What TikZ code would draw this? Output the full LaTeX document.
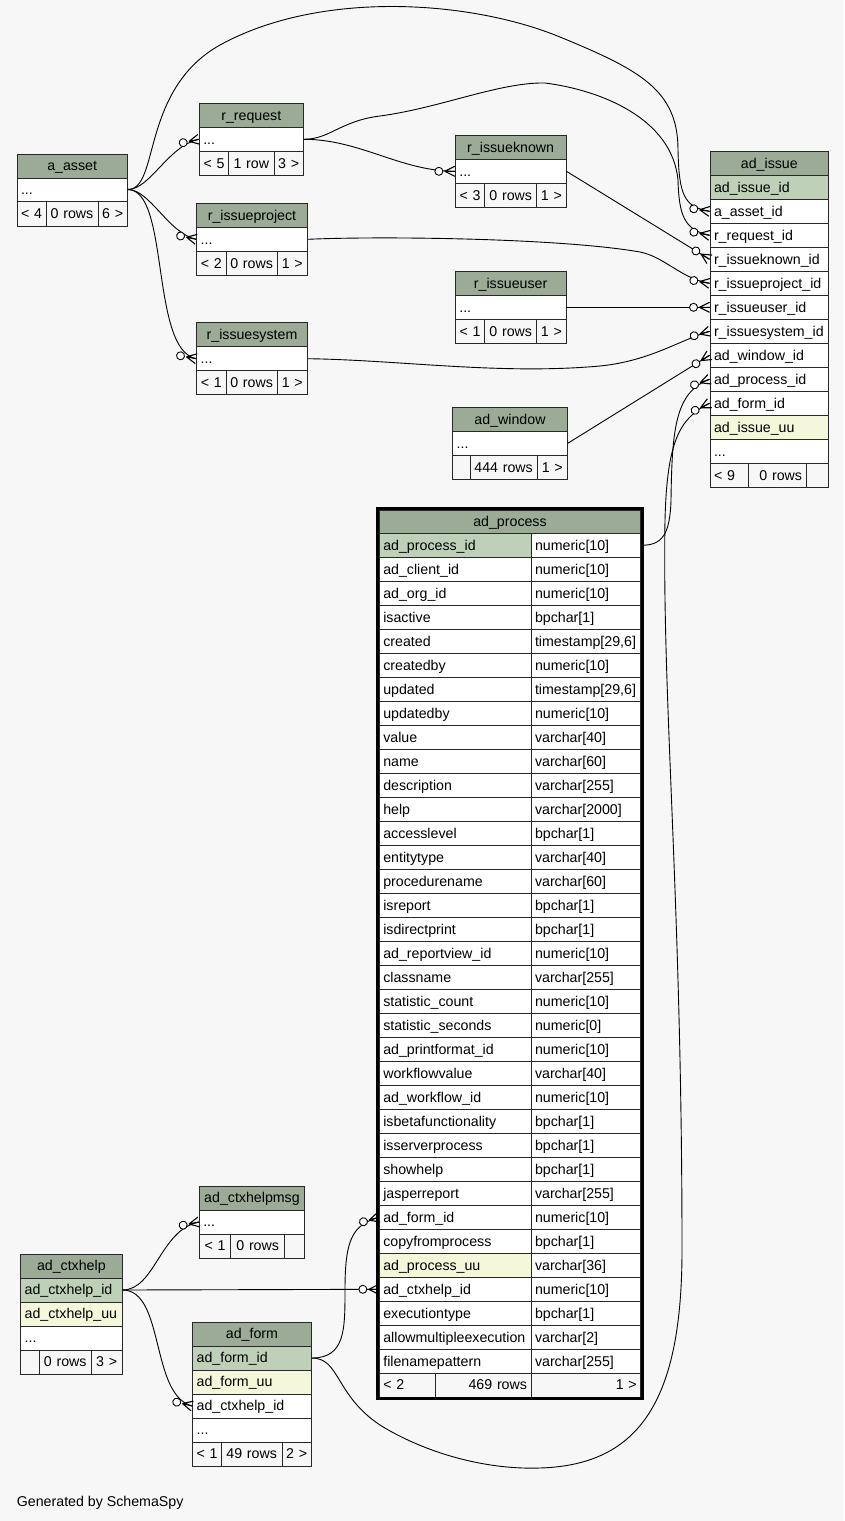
\documentclass[tikz,border=0pt]{standalone}
\usepackage{fontspec}
\setmainfont{Liberation Sans}
\definecolor{hdr}{RGB}{155,171,150}
\definecolor{pk}{RGB}{190,209,184}
\definecolor{uq}{RGB}{244,247,218}
\definecolor{bgc}{RGB}{247,247,247}
\definecolor{bdr}{RGB}{40,40,40}
\newcommand{\threedots}{...}
\tikzset{
  cellbox/.style={draw=bdr, line width=0.9pt, inner xsep=4pt, inner ysep=0pt,
    text height=11pt, text depth=1.4pt, font=\fontsize{14.2}{16}\selectfont},
  edge/.style={draw=black, line width=0.9pt},
  crowline/.style={draw=black, line width=1.1pt},
  crowdot/.style={draw=black, line width=0.9pt, fill=white},
}
% name, x1, y1, x2, y2, fill, align, text
\newcommand{\tcell}[8]{%
  \pgfmathsetmacro\cw{#4-#2}%
  \pgfmathsetmacro\ch{#5-#3}%
  \pgfmathsetmacro\tw{#4-#2-8}%
  \pgfmathsetmacro\cx{(#2+#4)/2}%
  \pgfmathsetmacro\cy{(#3+#5)/2}%
  \node[cellbox, fill=#6, minimum width=\cw pt, minimum height=\ch pt,
        text width=\tw pt, align=#7] (#1) at (\cx,\cy) {\mbox{#8}};}
% crow's foot with open circle at a table edge
\newcommand{\crowend}[2]{%
  \begin{scope}[shift={(#1)}, rotate=#2]
    \draw[crowline] (-10,0) -- (0,5) (-10,0) -- (0,0) (-10,0) -- (0,-5);
    \draw[crowdot] (-16,0) circle[radius=4pt];
  \end{scope}}
\begin{document}
\begin{tikzpicture}[x=1pt, y=-1pt]
\useasboundingbox (0,0) rectangle (844,1521);
\fill[bgc] (0,0) rectangle (844,1521);

% ---------- a_asset
\tcell{aa-h}{17}{154}{127.3}{178}{hdr}{center}{a\_asset}
\tcell{aa-d}{17}{178}{127.3}{201}{white}{left}{\threedots}
\tcell{aa-f1}{17}{201}{46}{226}{bgc}{center}{< 4}
\tcell{aa-f2}{46}{201}{98}{226}{bgc}{center}{0 rows}
\tcell{aa-f3}{98}{201}{127.3}{226}{bgc}{center}{6 >}

% ---------- r_request
\tcell{rr-h}{199.3}{103.3}{303.3}{127.3}{hdr}{center}{r\_request}
\tcell{rr-d}{199.3}{127.3}{303.3}{151.3}{white}{left}{\threedots}
\tcell{rr-f1}{199.3}{151.3}{228.7}{175.3}{bgc}{center}{< 5}
\tcell{rr-f2}{228.7}{151.3}{274}{175.3}{bgc}{center}{1 row}
\tcell{rr-f3}{274}{151.3}{303.3}{175.3}{bgc}{center}{3 >}

% ---------- r_issueproject
\tcell{rp-h}{196.7}{203.3}{307.3}{227.3}{hdr}{center}{r\_issueproject}
\tcell{rp-d}{196.7}{227.3}{307.3}{251.3}{white}{left}{\threedots}
\tcell{rp-f1}{196.7}{251.3}{226}{275.3}{bgc}{center}{< 2}
\tcell{rp-f2}{226}{251.3}{277.3}{275.3}{bgc}{center}{0 rows}
\tcell{rp-f3}{277.3}{251.3}{307.3}{275.3}{bgc}{center}{1 >}

% ---------- r_issuesystem
\tcell{rs-h}{196.7}{322.7}{307.3}{346.7}{hdr}{center}{r\_issuesystem}
\tcell{rs-d}{196.7}{346.7}{307.3}{370.7}{white}{left}{\threedots}
\tcell{rs-f1}{196.7}{370.7}{226}{394.7}{bgc}{center}{< 1}
\tcell{rs-f2}{226}{370.7}{277.3}{394.7}{bgc}{center}{0 rows}
\tcell{rs-f3}{277.3}{370.7}{307.3}{394.7}{bgc}{center}{1 >}

% ---------- r_issueknown
\tcell{rk-h}{455.3}{135.3}{566}{159.3}{hdr}{center}{r\_issueknown}
\tcell{rk-d}{455.3}{159.3}{566}{183.3}{white}{left}{\threedots}
\tcell{rk-f1}{455.3}{183.3}{484.7}{207.3}{bgc}{center}{< 3}
\tcell{rk-f2}{484.7}{183.3}{536.7}{207.3}{bgc}{center}{0 rows}
\tcell{rk-f3}{536.7}{183.3}{566}{207.3}{bgc}{center}{1 >}

% ---------- r_issueuser
\tcell{ru-h}{455.3}{271.3}{566}{295.3}{hdr}{center}{r\_issueuser}
\tcell{ru-d}{455.3}{295.3}{566}{319.3}{white}{left}{\threedots}
\tcell{ru-f1}{455.3}{319.3}{484.7}{343.3}{bgc}{center}{< 1}
\tcell{ru-f2}{484.7}{319.3}{536.7}{343.3}{bgc}{center}{0 rows}
\tcell{ru-f3}{536.7}{319.3}{566}{343.3}{bgc}{center}{1 >}

% ---------- ad_window
\tcell{aw-h}{452.7}{407.3}{567.3}{431.3}{hdr}{center}{ad\_window}
\tcell{aw-d}{452.7}{431.3}{567.3}{455.3}{white}{left}{\threedots}
\tcell{aw-f1}{452.7}{455.3}{470}{479.3}{bgc}{center}{}
\tcell{aw-f2}{470}{455.3}{537.3}{479.3}{bgc}{center}{444 rows}
\tcell{aw-f3}{537.3}{455.3}{567.3}{479.3}{bgc}{center}{1 >}

% ---------- ad_issue
\tcell{ai-h}{710}{151.3}{828.7}{175.3}{hdr}{center}{ad\_issue}
\foreach \cn/\nm [count=\i from 0] in {ad\_issue\_id/id, a\_asset\_id/aasset,
   r\_request\_id/rreq, r\_issueknown\_id/rknown, r\_issueproject\_id/rproj,
   r\_issueuser\_id/ruser, r\_issuesystem\_id/rsys, ad\_window\_id/win,
   ad\_process\_id/proc, ad\_form\_id/form, ad\_issue\_uu/uu, \threedots/more}{
  \pgfmathsetmacro\ya{175.3+24*\i}\pgfmathsetmacro\yb{\ya+24}
  \ifnum\i=0 \def\fc{pk}\else\ifnum\i=10 \def\fc{uq}\else\def\fc{white}\fi\fi
  \tcell{ai-\nm}{710}{\ya}{828.7}{\yb}{\fc}{left}{\cn}
}
\tcell{ai-f1}{710}{463.3}{748.7}{487.3}{bgc}{left}{< 9}
\tcell{ai-f2}{748.7}{463.3}{806}{487.3}{bgc}{right}{0 rows}
\tcell{ai-f3}{806}{463.3}{828.7}{487.3}{bgc}{center}{}

% ---------- ad_process
\tcell{ap-h}{379.3}{510.3}{640.7}{533.3}{hdr}{center}{ad\_process}
\foreach \cn/\ct [count=\i from 0] in {ad\_process\_id/{numeric[10]},
  ad\_client\_id/{numeric[10]}, ad\_org\_id/{numeric[10]}, isactive/{bpchar[1]},
  created/{timestamp[29,6]}, createdby/{numeric[10]}, updated/{timestamp[29,6]},
  updatedby/{numeric[10]}, value/{varchar[40]}, name/{varchar[60]},
  description/{varchar[255]}, help/{varchar[2000]}, accesslevel/{bpchar[1]},
  entitytype/{varchar[40]}, procedurename/{varchar[60]}, isreport/{bpchar[1]},
  isdirectprint/{bpchar[1]}, ad\_reportview\_id/{numeric[10]},
  classname/{varchar[255]}, statistic\_count/{numeric[10]},
  statistic\_seconds/{numeric[0]}, ad\_printformat\_id/{numeric[10]},
  workflowvalue/{varchar[40]}, ad\_workflow\_id/{numeric[10]},
  isbetafunctionality/{bpchar[1]}, isserverprocess/{bpchar[1]},
  showhelp/{bpchar[1]}, jasperreport/{varchar[255]}, ad\_form\_id/{numeric[10]},
  copyfromprocess/{bpchar[1]}, ad\_process\_uu/{varchar[36]},
  ad\_ctxhelp\_id/{numeric[10]}, executiontype/{bpchar[1]},
  allowmultipleexecution/{varchar[2]}, filenamepattern/{varchar[255]}}{
  \pgfmathsetmacro\ya{533.3+24*\i}\pgfmathsetmacro\yb{\ya+24}
  \ifnum\i=0 \def\fc{pk}\else\ifnum\i=30 \def\fc{uq}\else\def\fc{white}\fi\fi
  \tcell{ap-n-\i}{379.3}{\ya}{531}{\yb}{\fc}{left}{\cn}
  \tcell{ap-t-\i}{531}{\ya}{640.7}{\yb}{white}{left}{\ct}
}
\tcell{ap-f1}{379.3}{1373.3}{435}{1397}{bgc}{left}{< 2}
\tcell{ap-f2}{435}{1373.3}{531}{1397}{bgc}{right}{469 rows}
\tcell{ap-f3}{531}{1373.3}{640.7}{1397}{bgc}{right}{1 >}
\draw[line width=3pt, draw=black] (377.7,508.7) rectangle (642,1398.3);

% ---------- ad_ctxhelp
\tcell{ch-h}{20.7}{1254}{122}{1278}{hdr}{center}{ad\_ctxhelp}
\tcell{ch-id}{20.7}{1278}{122}{1302}{pk}{left}{ad\_ctxhelp\_id}
\tcell{ch-uu}{20.7}{1302}{122}{1326}{uq}{left}{ad\_ctxhelp\_uu}
\tcell{ch-d}{20.7}{1326}{122}{1350}{white}{left}{\threedots}
\tcell{ch-f1}{20.7}{1350}{39.3}{1374}{bgc}{center}{}
\tcell{ch-f2}{39.3}{1350}{91.3}{1374}{bgc}{center}{0 rows}
\tcell{ch-f3}{91.3}{1350}{122}{1374}{bgc}{center}{3 >}

% ---------- ad_ctxhelpmsg
\tcell{cm-h}{199.3}{1186}{304.7}{1210}{hdr}{center}{ad\_ctxhelpmsg}
\tcell{cm-d}{199.3}{1210}{304.7}{1234}{white}{left}{\threedots}
\tcell{cm-f1}{199.3}{1234}{230.7}{1258}{bgc}{center}{< 1}
\tcell{cm-f2}{230.7}{1234}{284.7}{1258}{bgc}{center}{0 rows}
\tcell{cm-f3}{284.7}{1234}{304.7}{1258}{bgc}{center}{}

% ---------- ad_form
\tcell{af-h}{192.7}{1322}{311.3}{1346}{hdr}{center}{ad\_form}
\tcell{af-id}{192.7}{1346}{311.3}{1370}{pk}{left}{ad\_form\_id}
\tcell{af-uu}{192.7}{1370}{311.3}{1394}{uq}{left}{ad\_form\_uu}
\tcell{af-ctx}{192.7}{1394}{311.3}{1418}{white}{left}{ad\_ctxhelp\_id}
\tcell{af-d}{192.7}{1418}{311.3}{1442}{white}{left}{\threedots}
\tcell{af-f1}{192.7}{1442}{221.3}{1466}{bgc}{center}{< 1}
\tcell{af-f2}{221.3}{1442}{282}{1466}{bgc}{center}{49 rows}
\tcell{af-f3}{282}{1442}{311.3}{1466}{bgc}{center}{2 >}

% ---------- connectors
\draw[edge] (aa-d.east) .. controls (150,189.5) and (168,146) .. (rr-d.west);
\draw[edge] (aa-d.east) .. controls (150,189.5) and (168,233) .. (rp-d.west);
\draw[edge] (aa-d.east) .. controls (170,189.5) and (150,350) .. (rs-d.west);
\draw[edge] (aa-d.east) .. controls (160,189.5) and (140,90) .. (220,45)
   .. controls (320,-10) and (470,0) .. (560,37)
   .. controls (640,70) and (678,90) .. (678,150)
   .. controls (679,195) and (684,207) .. (ai-aasset.west);
\draw[edge] (rr-d.east) .. controls (330,139.3) and (340,121) .. (380,116)
   .. controls (440,108) and (500,82) .. (545,83)
   .. controls (600,90) and (672,118) .. (678,180)
   .. controls (679,215) and (684,230) .. (ai-rreq.west);
\draw[edge] (rr-d.east) .. controls (360,139.3) and (400,171) .. (rk-d.west);
\draw[edge] (rk-d.east) -- (ai-rknown.west);
\draw[edge] (rp-d.east) .. controls (380,236) and (560,238) .. (640,252)
   .. controls (665,257) and (680,278) .. (ai-rproj.west);
\draw[edge] (ru-d.east) -- (ai-ruser.west);
\draw[edge] (rs-d.east) .. controls (400,360) and (500,375) .. (600,366)
   .. controls (650,361) and (680,340) .. (ai-rsys.west);
\draw[edge] (aw-d.east) -- (ai-win.west);
\draw[edge] (ap-t-0.east) .. controls (662,545.3) and (670,535) .. (671,500)
   .. controls (672,430) and (675,392) .. (ai-proc.west);
\draw[edge] (af-id.east) .. controls (340,1358) and (335,1395) .. (380,1425)
   .. controls (420,1450) and (480,1470) .. (540,1468)
   .. controls (640,1465) and (682,1400) .. (682,1250)
   .. controls (682,900) and (662,700) .. (665,520)
   .. controls (667,440) and (680,418) .. (ai-form.west);
\draw[edge] (af-id.east) .. controls (345,1358) and (345,1330) .. (345,1290)
   .. controls (345,1240) and (352,1225) .. (ap-n-28.west);
\draw[edge] (ch-id.east) -- (ap-n-31.west);
\draw[edge] (ch-id.east) .. controls (155,1290) and (160,1230) .. (cm-d.west);
\draw[edge] (ch-id.east) .. controls (165,1290) and (150,1395) .. (af-ctx.west);

% ---------- crow's feet
\crowend{rr-d.west}{12}
\crowend{rp-d.west}{-12}
\crowend{rs-d.west}{-10.5}
\crowend{rk-d.west}{0}
\crowend{ai-aasset.west}{-9}
\crowend{ai-rreq.west}{-11.5}
\crowend{ai-rknown.west}{-31.4}
\crowend{ai-rproj.west}{-10}
\crowend{ai-ruser.west}{0}
\crowend{ai-rsys.west}{16}
\crowend{ai-win.west}{31.7}
\crowend{ai-proc.west}{20}
\crowend{ai-form.west}{26}
\crowend{ap-n-28.west}{16}
\crowend{ap-n-31.west}{0}
\crowend{cm-d.west}{11.5}
\crowend{af-ctx.west}{-14}

\node[anchor=base west, inner sep=0pt, font=\fontsize{14.2}{16}\selectfont] (gen)
  at (16.7,1506.5) {Generated by SchemaSpy};
\end{tikzpicture}
\end{document}
